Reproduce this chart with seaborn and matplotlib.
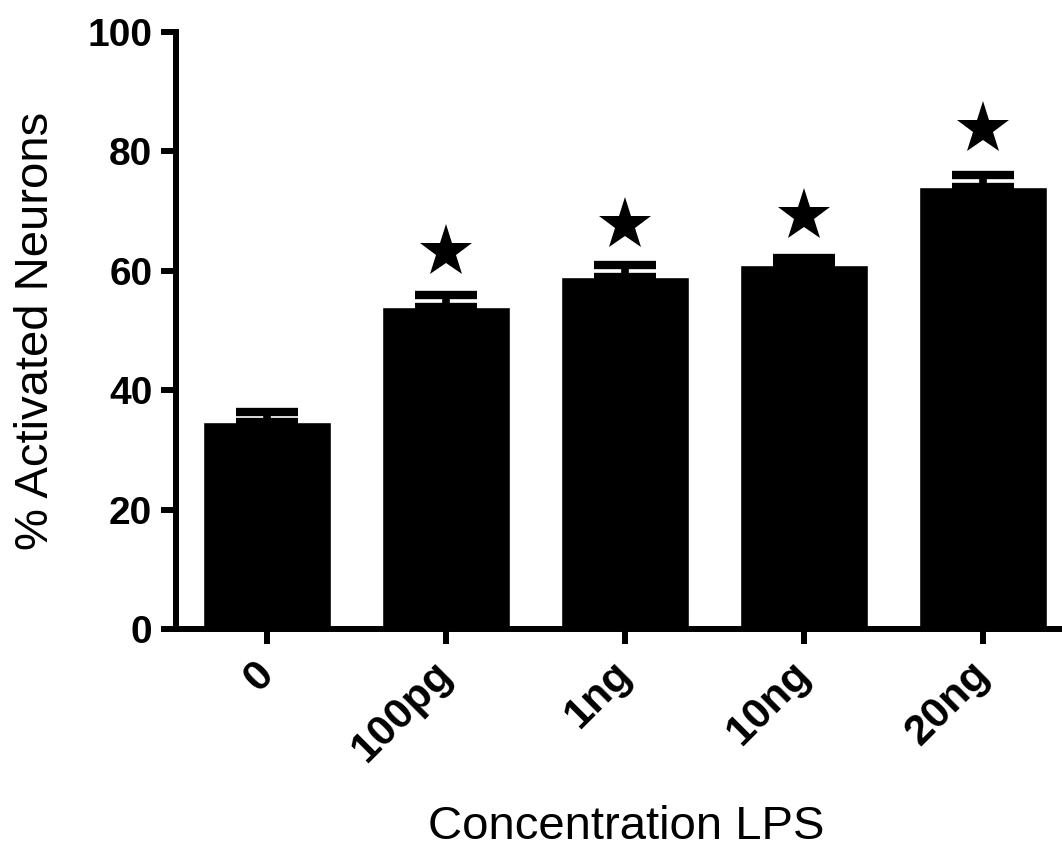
import matplotlib
matplotlib.use('Agg')
import matplotlib.pyplot as plt
import seaborn as sns
import pandas as pd

# Data
categories = ['0', '100pg', '1ng', '10ng', '20ng']
activated = [34.6, 54.0, 59.0, 61.0, 74.0]
sem = [1.7, 2.0, 2.0, 1.2, 2.0]
star_y = [None, 63.2, 67.7, 69.2, 83.8]

df = pd.DataFrame({'LPS': categories, 'Activated': activated})

sns.set_style('ticks')
plt.rcParams['font.family'] = ['Liberation Sans', 'DejaVu Sans']
plt.rcParams['text.color'] = 'black'
plt.rcParams['axes.labelcolor'] = 'black'
plt.rcParams['xtick.color'] = 'black'
plt.rcParams['ytick.color'] = 'black'
plt.rcParams['axes.edgecolor'] = 'black'

fig = plt.figure(figsize=(10.62, 8.48), dpi=100)
ax = fig.add_axes([0.1657, 0.2583, 0.8343, 0.704])

sns.barplot(data=df, x='LPS', y='Activated', color='black',
            width=0.715, saturation=1, errorbar=None, ax=ax)

# upper error bars only
ax.errorbar(range(len(categories)), activated,
            yerr=[[0] * len(sem), sem], fmt='none', ecolor='black',
            elinewidth=5.5, capsize=22, capthick=6)

# significance stars
for i, s in enumerate(star_y):
    if s is not None:
        ax.plot(i, s, marker='*', color='black', markersize=40,
                markeredgewidth=0)

ax.set_ylim(0, 100)
ax.set_xlim(-0.508, 4.44)
ax.set_yticks([0, 20, 40, 60, 80, 100])

sns.despine(ax=ax)
for side in ['left', 'bottom']:
    ax.spines[side].set_linewidth(4.3)
ax.spines['left'].set_bounds(0, 100)

ax.tick_params(axis='both', length=11, width=4.3, color='black')
ax.tick_params(axis='y', labelsize=28, pad=6)
ax.tick_params(axis='x', labelsize=31, pad=17)
for lab in ax.get_yticklabels():
    lab.set_fontweight('bold')
for lab in ax.get_xticklabels():
    lab.set_rotation(45)
    lab.set_ha('right')
    lab.set_va('center')
    lab.set_rotation_mode('anchor')
    lab.set_fontweight('bold')

ax.set_ylabel('% Activated Neurons', fontsize=34)
ax.yaxis.set_label_coords(-0.133, 0.5)
ax.set_xlabel('Concentration LPS', fontsize=34)
ax.xaxis.set_label_coords(0.508, -0.295)

plt.savefig('out.png', dpi=100)
